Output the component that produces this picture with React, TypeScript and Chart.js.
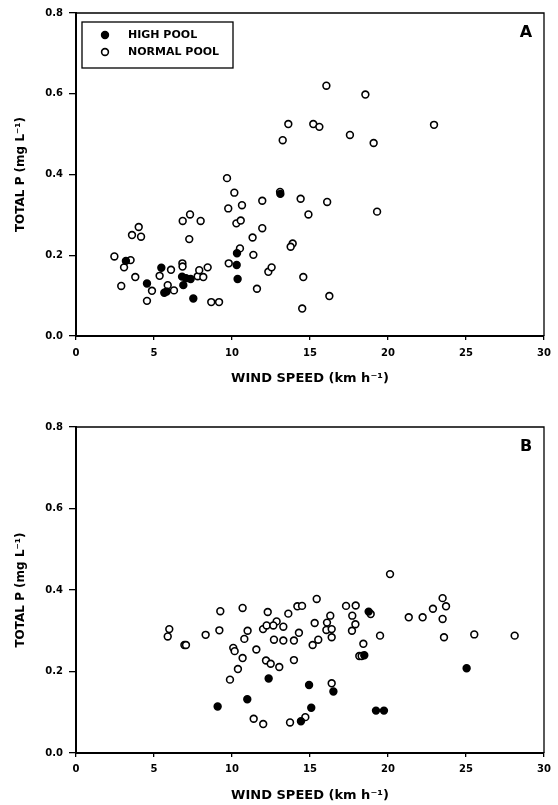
import React, { useEffect, useRef } from "react";
import { Chart, registerables } from "chart.js";

Chart.register(...registerables);

const FONT = "'DejaVu Sans', 'Liberation Sans', sans-serif";

const xTicks = [0, 5, 10, 15, 20, 25, 30];
const yTicks = [0, 0.2, 0.4, 0.6, 0.8];
const seriesLabels = ["HIGH POOL", "NORMAL POOL"];
const xTitle = "WIND SPEED (km h\u207B\u00B9)";
const yTitle = "TOTAL P (mg L\u207B\u00B9)";

// Panel A
const aHighX = [3.2, 4.55, 5.47, 5.66, 5.81, 6.8, 6.88, 7.05, 7.35, 7.52, 10.32, 10.3, 10.36, 13.1];
const aHighY = [0.186, 0.13, 0.169, 0.107, 0.11, 0.147, 0.126, 0.143, 0.141, 0.093, 0.205, 0.176, 0.141, 0.352];
const aNormX = [2.46, 3.08, 3.5, 2.9, 3.8, 3.59, 4.02, 4.17, 4.87, 4.55, 5.36, 5.88, 6.09, 6.28, 6.84, 7.31, 7.26, 6.82, 6.83, 7.99, 7.8, 7.9, 8.16, 8.44, 8.67, 9.17, 9.79, 9.76, 10.15, 9.68, 10.64, 10.51, 10.28, 10.56, 11.32, 11.37, 11.94, 11.94, 11.6, 12.33, 12.54, 13.08, 14.4, 16.1, 14.9, 19.3, 13.89, 13.76, 14.57, 16.24, 14.5, 16.05, 18.55, 13.61, 15.21, 15.6, 13.25, 17.56, 19.08, 22.95];
const aNormY = [0.197, 0.17, 0.188, 0.124, 0.146, 0.25, 0.27, 0.246, 0.112, 0.087, 0.149, 0.126, 0.164, 0.113, 0.285, 0.301, 0.24, 0.18, 0.172, 0.285, 0.148, 0.163, 0.146, 0.17, 0.084, 0.084, 0.18, 0.316, 0.355, 0.391, 0.324, 0.217, 0.279, 0.286, 0.244, 0.201, 0.335, 0.267, 0.117, 0.159, 0.17, 0.357, 0.34, 0.332, 0.301, 0.308, 0.229, 0.221, 0.146, 0.099, 0.068, 0.62, 0.598, 0.525, 0.525, 0.518, 0.485, 0.498, 0.478, 0.523];

// Panel B
const bHighX = [9.08, 10.98, 12.35, 14.94, 15.08, 14.42, 16.5, 18.76, 18.48, 19.23, 19.74, 25.04];
const bHighY = [0.114, 0.132, 0.183, 0.167, 0.111, 0.078, 0.151, 0.347, 0.24, 0.104, 0.104, 0.208];
const bNormX = [5.88, 5.98, 6.95, 7.05, 8.31, 9.25, 9.19, 9.87, 10.08, 10.17, 10.38, 10.68, 11.0, 10.79, 10.68, 11.39, 11.56, 12.0, 11.99, 12.22, 12.29, 12.18, 12.48, 12.69, 12.86, 12.65, 13.29, 13.29, 13.03, 13.61, 14.19, 14.49, 15.43, 13.97, 14.29, 13.97, 15.3, 15.17, 15.53, 14.7, 13.72, 16.09, 16.3, 16.05, 16.39, 16.39, 16.39, 17.31, 17.93, 17.71, 17.91, 17.69, 18.89, 18.42, 18.16, 18.31, 19.49, 20.13, 21.33, 22.22, 22.88, 23.5, 23.72, 23.5, 23.59, 25.53, 28.12];
const bNormY = [0.286, 0.304, 0.265, 0.265, 0.29, 0.348, 0.301, 0.18, 0.258, 0.25, 0.206, 0.356, 0.3, 0.28, 0.233, 0.084, 0.254, 0.071, 0.304, 0.313, 0.346, 0.227, 0.219, 0.278, 0.323, 0.313, 0.31, 0.276, 0.211, 0.342, 0.36, 0.361, 0.378, 0.276, 0.295, 0.228, 0.319, 0.265, 0.278, 0.088, 0.075, 0.32, 0.337, 0.302, 0.304, 0.284, 0.171, 0.361, 0.362, 0.337, 0.316, 0.3, 0.341, 0.268, 0.238, 0.238, 0.288, 0.439, 0.333, 0.333, 0.354, 0.38, 0.36, 0.329, 0.284, 0.291, 0.288];

const zip = (xs: number[], ys: number[]) => xs.map((x, i) => ({ x, y: ys[i] }));

type Geom = {
  height: number;
  padTop: number;
  xAxisH: number;
  xTickLen: number;
  xTickPad: number;
  xTitlePadBottom: number;
  legend: boolean;
  letter: string;
};

const POINT_R = 3.4;
const POINT_BW = 1.6;

function drawMarker(ctx: CanvasRenderingContext2D, x: number, y: number, filled: boolean) {
  ctx.beginPath();
  ctx.arc(x, y, POINT_R, 0, Math.PI * 2);
  ctx.fillStyle = filled ? "#000" : "#fff";
  ctx.fill();
  ctx.lineWidth = POINT_BW;
  ctx.strokeStyle = "#000";
  ctx.stroke();
}

function makeChart(canvas: HTMLCanvasElement, highX: number[], highY: number[], normX: number[], normY: number[], g: Geom) {
  const decor = {
    id: "decor",
    beforeDatasetsDraw(chart: any) {
      const { ctx, chartArea: a } = chart;
      ctx.save();
      ctx.strokeStyle = "#000";
      ctx.lineWidth = 1.3;
      ctx.beginPath();
      ctx.moveTo(a.left, a.top);
      ctx.lineTo(a.right, a.top);
      ctx.lineTo(a.right, a.bottom);
      ctx.stroke();
      ctx.restore();
    },
    afterDraw(chart: any) {
      const { ctx, chartArea: a } = chart;
      ctx.save();
      ctx.fillStyle = "#000";
      ctx.font = `bold 16px ${FONT}`;
      ctx.textAlign = "center";
      ctx.textBaseline = "middle";
      ctx.fillText(g.letter, a.right - 18, a.top + 19.5);
      if (g.legend) {
        const bx = a.left + 6;
        const by = a.top + 9;
        ctx.lineWidth = 1.3;
        ctx.strokeStyle = "#000";
        ctx.strokeRect(bx, by, 151, 46);
        ctx.font = `bold 11px ${FONT}`;
        ctx.textAlign = "left";
        const labels = chart.data.datasets.map((d: any) => d.label);
        drawMarker(ctx, a.left + 29, a.top + 22, true);
        drawMarker(ctx, a.left + 29, a.top + 39, false);
        ctx.fillStyle = "#000";
        ctx.fillText(labels[0], a.left + 52, a.top + 22);
        ctx.fillText(labels[1], a.left + 52, a.top + 39);
      }
      ctx.restore();
    },
  };

  return new Chart(canvas, {
    type: "scatter",
    data: {
      datasets: [
        {
          label: seriesLabels[0],
          data: zip(highX, highY),
          backgroundColor: "#000",
          borderColor: "#000",
          pointRadius: POINT_R,
          borderWidth: POINT_BW,
        },
        {
          label: seriesLabels[1],
          data: zip(normX, normY),
          backgroundColor: "#fff",
          borderColor: "#000",
          pointRadius: POINT_R,
          borderWidth: POINT_BW,
        },
      ],
    },
    options: {
      animation: false,
      responsive: false,
      maintainAspectRatio: false,
      devicePixelRatio: 1,
      layout: { padding: { top: g.padTop, right: 14, left: 0, bottom: 0 } },
      plugins: { legend: { display: false }, tooltip: { enabled: false } },
      scales: {
        x: {
          type: "linear",
          min: 0,
          max: 30,
          afterBuildTicks: (s: any) => {
            s.ticks = xTicks.map((v) => ({ value: v }));
          },
          afterFit: (s: any) => {
            s.height = g.xAxisH;
          },
          ticks: {
            color: "#000",
            font: { family: FONT, size: 10, weight: "bold" },
            padding: g.xTickPad,
            maxRotation: 0,
            callback: (v: any) => String(v),
          },
          grid: { display: true, drawOnChartArea: false, drawTicks: true, tickLength: g.xTickLen, color: "#000", lineWidth: 1.3 },
          border: { display: true, color: "#000", width: 2 },
          title: {
            display: true,
            text: xTitle,
            color: "#000",
            font: { family: FONT, size: 13, weight: "bold" },
            padding: { top: 0, bottom: g.xTitlePadBottom },
          },
        },
        y: {
          type: "linear",
          min: 0,
          max: 0.8,
          afterBuildTicks: (s: any) => {
            s.ticks = yTicks.map((v) => ({ value: v }));
          },
          afterFit: (s: any) => {
            s.width = 76;
          },
          ticks: {
            color: "#000",
            font: { family: FONT, size: 10, weight: "bold" },
            padding: 6,
            callback: (v: any) => Number(v).toFixed(1),
          },
          grid: { display: true, drawOnChartArea: false, drawTicks: true, tickLength: 7, color: "#000", lineWidth: 1.3 },
          border: { display: true, color: "#000", width: 2 },
          title: {
            display: true,
            text: yTitle,
            color: "#000",
            font: { family: FONT, size: 12, weight: "bold" },
            padding: { top: 14, bottom: 0 },
          },
        },
      },
    },
    plugins: [decor],
  } as any);
}

export default function App() {
  const refA = useRef<HTMLCanvasElement>(null);
  const refB = useRef<HTMLCanvasElement>(null);

  useEffect(() => {
    const a = makeChart(refA.current!, aHighX, aHighY, aNormX, aNormY, {
      height: 400,
      padTop: 13,
      xAxisH: 64,
      xTickLen: 4,
      xTickPad: 7,
      xTitlePadBottom: 14,
      legend: true,
      letter: "A",
    });
    const b = makeChart(refB.current!, bHighX, bHighY, bNormX, bNormY, {
      height: 405,
      padTop: 27,
      xAxisH: 52,
      xTickLen: 4,
      xTickPad: 6,
      xTitlePadBottom: 2,
      legend: false,
      letter: "B",
    });
    return () => {
      a.destroy();
      b.destroy();
    };
  }, []);

  return (
    <div style={{ position: "absolute", left: 0, top: 0, width: 558, height: 805, background: "#fff" }}>
      <canvas ref={refA} width={558} height={400} style={{ position: "absolute", left: 0, top: 0, width: 558, height: 400 }} />
      <canvas ref={refB} width={558} height={405} style={{ position: "absolute", left: 0, top: 400, width: 558, height: 405 }} />
    </div>
  );
}
